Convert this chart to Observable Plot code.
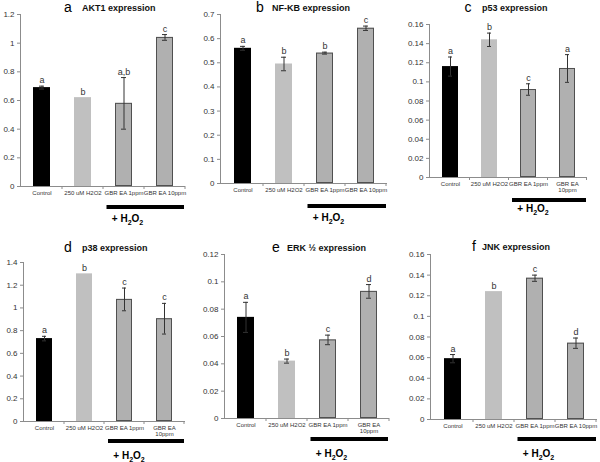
<!DOCTYPE html>
<html>
<head>
<meta charset="utf-8">
<script src="https://cdn.jsdelivr.net/npm/d3@7"></script>
<script src="https://cdn.jsdelivr.net/npm/@observablehq/plot@0.6"></script>
<style>
  html, body { margin: 0; padding: 0; background: #fff; }
  #wrap { position: relative; width: 600px; height: 462px; overflow: hidden; font-family: "Liberation Sans", Arial, sans-serif; }
  #wrap > svg { position: absolute; overflow: visible; max-width: none; }
</style>
</head>
<body>
<div id="wrap"></div>
<script>
// ---- data ----
const categories = ["Control", "250 uM H2O2", "GBR EA 1ppm", "GBR EA 10ppm"];
const xLabelsFlat = ["Control", "250 uM H2O2", "GBR EA 1ppm", "GBR EA 10ppm"];
const xLabelsWrapped = ["Control", "250 uM H2O2", "GBR EA 1ppm", "GBR EA\n10ppm"];
const barColors = ["#000000", "#c0c0c0", "#b0b0b0", "#b0b0b0"];

const akt1 = [0.69, 0.62, 0.58, 1.04];
const akt1Err = [0.01, 0, 0.18, 0.02];
const akt1Letters = ["a", "b", "a,b", "c"];
const akt1Ticks = [0, 0.2, 0.4, 0.6, 0.8, 1, 1.2];

const nfkb = [0.56, 0.495, 0.54, 0.643];
const nfkbErr = [0.008, 0.028, 0.004, 0.009];
const nfkbLetters = ["a", "b", "b", "c"];
const nfkbTicks = [0, 0.1, 0.2, 0.3, 0.4, 0.5, 0.6, 0.7];

const p53 = [0.116, 0.144, 0.092, 0.114];
const p53Err = [0.010, 0.007, 0.006, 0.0145];
const p53Letters = ["a", "b", "c", "a"];
const p53Ticks = [0, 0.02, 0.04, 0.06, 0.08, 0.1, 0.12, 0.14, 0.16];

const p38 = [0.73, 1.30, 1.075, 0.905];
const p38Err = [0.02, 0, 0.10, 0.135];
const p38Letters = ["a", "b", "c", "c"];
const p38Ticks = [0, 0.2, 0.4, 0.6, 0.8, 1, 1.2, 1.4];

const erk = [0.074, 0.042, 0.0575, 0.093];
const erkErr = [0.011, 0.0015, 0.0035, 0.005];
const erkLetters = ["a", "b", "c", "d"];
const erkTicks = [0, 0.02, 0.04, 0.06, 0.08, 0.1, 0.12];

const jnk = [0.059, 0.124, 0.137, 0.074];
const jnkErr = [0.004, 0, 0.003, 0.005];
const jnkLetters = ["a", "b", "c", "d"];
const jnkTicks = [0, 0.02, 0.04, 0.06, 0.08, 0.1, 0.12, 0.14, 0.16];

// ---- layout specs ----
const panels = [
  {letter: "a", title: "AKT1 expression", values: akt1, err: akt1Err, letters: akt1Letters, ticks: akt1Ticks, labels: xLabelsFlat,
   left: 0, top: 0, height: 225, mL: 20, mR: 15, mT: 14, mB: 39, letterX: 68, textX: 82, titleY: 7, barDy: 21, h2oDy: 12},
  {letter: "b", title: "NF-KB expression", values: nfkb, err: nfkbErr, letters: nfkbLetters, ticks: nfkbTicks, labels: xLabelsFlat,
   left: 200, top: 0, height: 225, mL: 20, mR: 13, mT: 14, mB: 42, letterX: 60, textX: 72, titleY: 7, barDy: 23, h2oDy: 12},
  {letter: "c", title: "p53 expression", values: p53, err: p53Err, letters: p53Letters, ticks: p53Ticks, labels: xLabelsWrapped,
   left: 400, top: 0, height: 225, mL: 29, mR: 13, mT: 24, mB: 48, letterX: 68, textX: 82, titleY: 7, barDy: 23, h2oDy: 9},
  {letter: "d", title: "p38 expression", values: p38, err: p38Err, letters: p38Letters, ticks: p38Ticks, labels: xLabelsWrapped,
   left: 0, top: 230, height: 232, mL: 23, mR: 15, mT: 32, mB: 41, letterX: 68, textX: 82, titleY: 17, barDy: 20, h2oDy: 15},
  {letter: "e", title: "ERK \u00bd expression", values: erk, err: erkErr, letters: erkLetters, ticks: erkTicks, labels: xLabelsWrapped,
   left: 200, top: 230, height: 232, mL: 24, mR: 11, mT: 24, mB: 44, letterX: 76, textX: 87, titleY: 17, barDy: 21, h2oDy: 15},
  {letter: "f", title: "JNK expression", values: jnk, err: jnkErr, letters: jnkLetters, ticks: jnkTicks, labels: xLabelsFlat,
   left: 400, top: 230, height: 232, mL: 30, mR: 3, mT: 24, mB: 43, letterX: 74, textX: 82, titleY: 16, barDy: 20, h2oDy: 15}
];

const fmt = d => String(+(+d).toFixed(4));
const wrap = document.getElementById("wrap");

for (const p of panels) {
  const data = categories.map((c, i) => ({cat: c, i, v: p.values[i], e: p.err[i], l: p.letters[i], fill: barColors[i]}));
  const withErr = data.filter(d => d.e > 0);
  const treated = data.filter(d => d.i >= 2);

  const deco = (index, scales, values, dims) => {
    const g = d3.create("svg:g");
    const x = scales.x;
    const bw = x.bandwidth();
    const step = x.step();
    const [r0, r1] = x.range();
    const y0 = dims.height - dims.marginBottom;
    // y axis line
    g.append("line").attr("x1", r0 + 0.5).attr("x2", r0 + 0.5)
      .attr("y1", dims.marginTop).attr("y2", y0).attr("stroke", "#8c8c8c");
    // category boundary ticks on x axis
    categories.forEach((c, i) => {
      const xb = x(c) - (step - bw) / 2 + step;
      g.append("line").attr("x1", xb).attr("x2", xb).attr("y1", y0).attr("y2", y0 + 3).attr("stroke", "#8c8c8c");
    });
    // title
    g.append("text").attr("x", p.letterX).attr("y", p.titleY + 5).attr("text-anchor", "middle")
      .style("font-size", "14px").attr("fill", "#000").text(p.letter);
    g.append("text").attr("x", p.textX).attr("y", p.titleY + 4).attr("text-anchor", "start")
      .style("font-size", "9px").style("font-weight", "bold").attr("fill", "#111").text(p.title);
    // treatment bar
    const bx0 = x(categories[2]) - bw / 2;
    const by = y0 + p.barDy;
    g.append("rect").attr("x", bx0).attr("y", by - 2).attr("width", r1 - 1 - bx0).attr("height", 4).attr("fill", "#000");
    // + H2O2
    const ht = g.append("text").attr("x", bx0 + 21).attr("y", by + p.h2oDy + 3).attr("text-anchor", "middle")
      .style("font-size", "10px").style("font-weight", "bold").attr("fill", "#000");
    ht.append("tspan").text("+ H");
    ht.append("tspan").attr("dy", 3).style("font-size", "7px").text("2");
    ht.append("tspan").attr("dy", -3).text("O");
    ht.append("tspan").attr("dy", 3).style("font-size", "7px").text("2");
    return g.node();
  };

  const chart = Plot.plot({
    width: 200,
    height: p.height,
    marginLeft: p.mL,
    marginRight: p.mR,
    marginTop: p.mT,
    marginBottom: p.mB,
    style: {fontFamily: '"Liberation Sans", Arial, sans-serif', color: "#333", background: "transparent", overflow: "visible"},
    x: {domain: categories, paddingInner: 0.59, paddingOuter: 0.295, label: null},
    y: {domain: [0, p.ticks[p.ticks.length - 1]], label: null},
    color: {type: "identity"},
    marks: [
      Plot.axisY({ticks: p.ticks, tickFormat: fmt, tickSize: 3, tickPadding: 3, stroke: "#8c8c8c", fill: "#333", fontSize: 8, label: null}),
      Plot.axisX({tickSize: 0, tickPadding: 4, tickFormat: (d) => p.labels[categories.indexOf(d)], fontSize: 6, fill: "#333", label: null}),
      Plot.barY(data, {x: "cat", y: "v", fill: "fill"}),
      Plot.barY(treated, {x: "cat", y: "v", fill: "none", stroke: "#505050", strokeWidth: 1, inset: 0.5}),
      Plot.ruleY([0], {stroke: "#8c8c8c"}),
      Plot.ruleX(withErr, {x: "cat", y1: d => d.v - d.e, y2: d => d.v + d.e, stroke: "#333", strokeWidth: 1}),
      Plot.tickY(withErr, {x: "cat", y: d => d.v + d.e, stroke: "#333", insetLeft: 6, insetRight: 6}),
      Plot.tickY(withErr, {x: "cat", y: d => d.v - d.e, stroke: "#333", insetLeft: 6, insetRight: 6}),
      Plot.text(data, {x: "cat", y: d => d.v + d.e, text: "l", dy: -3, lineAnchor: "bottom", fontSize: 9, fill: "#333"}),
      deco
    ]
  });
  chart.style.left = p.left + "px";
  chart.style.top = p.top + "px";
  wrap.appendChild(chart);
}
</script>
</body>
</html>
